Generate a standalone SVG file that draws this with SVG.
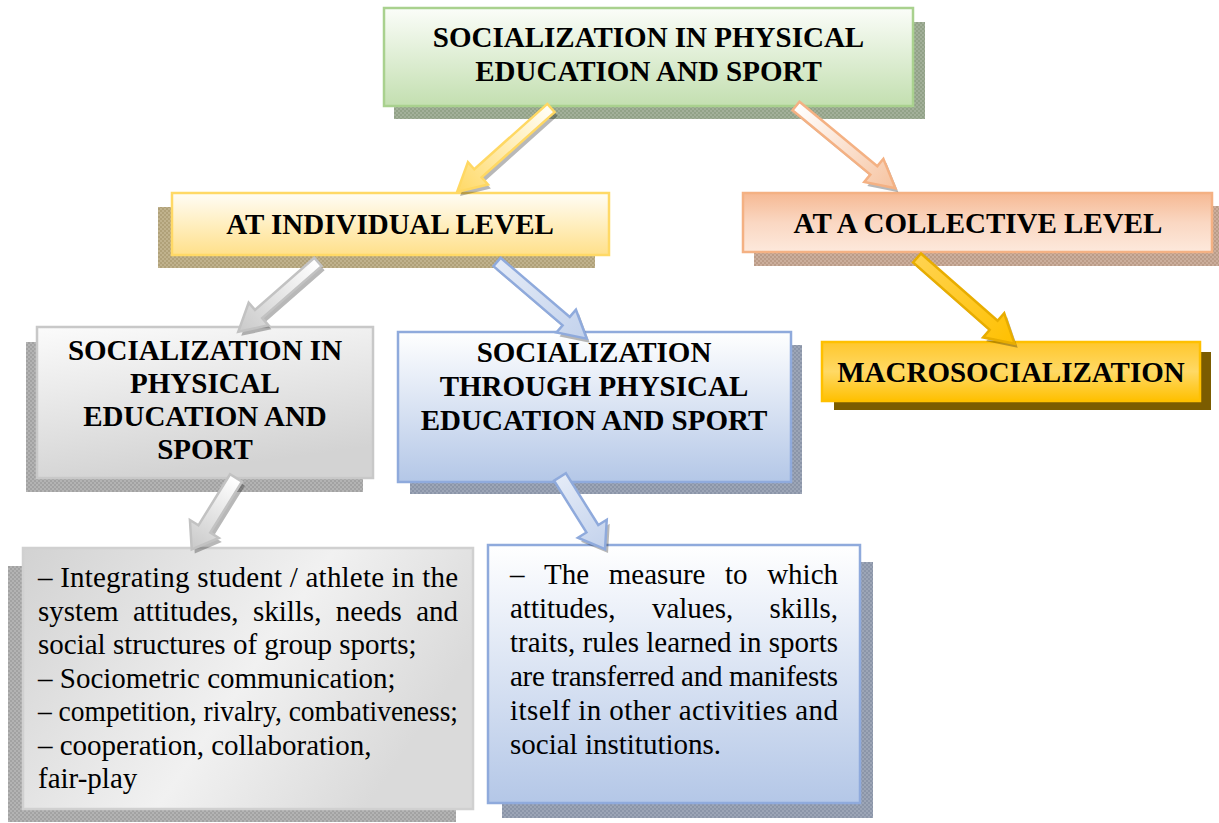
<svg xmlns="http://www.w3.org/2000/svg" xmlns:xlink="http://www.w3.org/1999/xlink" width="1219" height="823" viewBox="0 0 1219 823">
<defs>
<style>
.h{font-weight:bold;font-size:29px;fill:#000;text-anchor:middle}
.b{font-size:29px;fill:#000}
.box{stroke-width:2.5}
.ash{fill:#000;fill-opacity:0.28;stroke:none}
</style>
<linearGradient id="gGreen" x1="0" y1="0" x2="0" y2="1"><stop offset="0" stop-color="#fbfdf9"/><stop offset="1" stop-color="#c3dfb0"/></linearGradient>
<linearGradient id="gYel" x1="0" y1="0" x2="0" y2="1"><stop offset="0" stop-color="#fffdf6"/><stop offset="1" stop-color="#ffe08a"/></linearGradient>
<linearGradient id="gPeach" x1="0" y1="0" x2="0" y2="1"><stop offset="0" stop-color="#f6b993"/><stop offset="0.5" stop-color="#fad7c2"/><stop offset="1" stop-color="#fde9dc"/></linearGradient>
<linearGradient id="gGold" x1="0" y1="0" x2="0" y2="1"><stop offset="0" stop-color="#ffc72c"/><stop offset="0.5" stop-color="#ffd965"/><stop offset="1" stop-color="#ffc000"/></linearGradient>
<linearGradient id="gGray" x1="0" y1="0" x2="0.3" y2="1"><stop offset="0" stop-color="#fbfbfb"/><stop offset="1" stop-color="#d3d3d3"/></linearGradient>
<linearGradient id="gBlue" x1="0" y1="0" x2="0" y2="1"><stop offset="0" stop-color="#ffffff"/><stop offset="1" stop-color="#b4c7e7"/></linearGradient>
<linearGradient id="gGray2" x1="0" y1="0" x2="1" y2="0.4"><stop offset="0" stop-color="#d2d2d2"/><stop offset="0.6" stop-color="#f1f1f1"/><stop offset="1" stop-color="#dadada"/></linearGradient>
<pattern id="pGreen" width="4" height="4" patternUnits="userSpaceOnUse"><rect width="4" height="4" fill="#92a288"/><rect width="2" height="2" fill="#a3b09a"/><rect x="2" y="2" width="2" height="2" fill="#a3b09a"/></pattern>
<pattern id="pTan" width="4" height="4" patternUnits="userSpaceOnUse"><rect width="4" height="4" fill="#b0a179"/><rect width="2" height="2" fill="#c0b28d"/><rect x="2" y="2" width="2" height="2" fill="#c0b28d"/></pattern>
<pattern id="pPeach" width="4" height="4" patternUnits="userSpaceOnUse"><rect width="4" height="4" fill="#bb9c88"/><rect width="2" height="2" fill="#cbae9c"/><rect x="2" y="2" width="2" height="2" fill="#cbae9c"/></pattern>
<pattern id="pGray" width="4" height="4" patternUnits="userSpaceOnUse"><rect width="4" height="4" fill="#a2a2a2"/><rect width="2" height="2" fill="#b3b3b3"/><rect x="2" y="2" width="2" height="2" fill="#b3b3b3"/></pattern>
<pattern id="pBlue" width="4" height="4" patternUnits="userSpaceOnUse"><rect width="4" height="4" fill="#8b95a8"/><rect width="2" height="2" fill="#9ca5b6"/><rect x="2" y="2" width="2" height="2" fill="#9ca5b6"/></pattern>
<linearGradient id="aY" x1="0" y1="0" x2="1" y2="0"><stop offset="0" stop-color="#fffef8"/><stop offset="1" stop-color="#ffd966"/></linearGradient>
<linearGradient id="aP" x1="0" y1="0" x2="1" y2="0"><stop offset="0" stop-color="#ffffff"/><stop offset="1" stop-color="#f6c3a0"/></linearGradient>
<linearGradient id="aG" x1="0" y1="0" x2="1" y2="0"><stop offset="0" stop-color="#ffffff"/><stop offset="1" stop-color="#c9c9c9"/></linearGradient>
<linearGradient id="aB" x1="0" y1="0" x2="1" y2="0"><stop offset="0" stop-color="#e4ebf7"/><stop offset="1" stop-color="#c3d2ec"/></linearGradient>
<linearGradient id="aO" x1="0" y1="0" x2="1" y2="0"><stop offset="0" stop-color="#ffd34f"/><stop offset="1" stop-color="#ffc000"/></linearGradient>
<polygon id="p1" transform="translate(551,108) rotate(138.2)" points="0,-5.5 98,-5.5 98,-15 126,0 98,15 98,5.5 0,5.5"/>
<polygon id="p2" transform="translate(796,106) rotate(39.6)" points="0,-5.5 101,-5.5 101,-15 129,0 101,15 101,5.5 0,5.5"/>
<polygon id="p3" transform="translate(318,262) rotate(138.8)" points="0,-5.5 79,-5.5 79,-15 106,0 79,15 79,5.5 0,5.5"/>
<polygon id="p4" transform="translate(497,262) rotate(40.5)" points="0,-5.5 91,-5.5 91,-15 118,0 91,15 91,5.5 0,5.5"/>
<polygon id="p5" transform="translate(917,258) rotate(41.3)" points="0,-6 102,-6 102,-16 130,0 102,16 102,6 0,6"/>
<polygon id="p6" transform="translate(236,478) rotate(121.8)" points="0,-7 60,-7 60,-17 84,0 60,17 60,7 0,7"/>
<polygon id="p7" transform="translate(560,477) rotate(58)" points="0,-7 61,-7 61,-17 85,0 61,17 61,7 0,7"/>
</defs>
<rect width="1219" height="823" fill="#ffffff"/>
<g font-family="Liberation Serif, Times New Roman, serif">

<g id="node-top">
<rect x="394" y="22" width="531" height="97" fill="url(#pGreen)"/>
<rect class="box" x="384" y="8" width="529" height="98" fill="url(#gGreen)" stroke="#a9d18e"/>
<text class="h" x="648.5" y="47">SOCIALIZATION IN PHYSICAL</text>
<text class="h" x="648.5" y="81">EDUCATION AND SPORT</text>
</g>

<g id="node-individual">
<rect x="158" y="207" width="437" height="61" fill="url(#pTan)"/>
<rect class="box" x="172" y="193" width="437" height="62" fill="url(#gYel)" stroke="#ffd966"/>
<text class="h" x="390" y="234">AT INDIVIDUAL LEVEL</text>
</g>

<g id="node-collective">
<rect x="754" y="206" width="470" height="60" fill="url(#pPeach)"/>
<rect class="box" x="743" y="193" width="469" height="59" fill="url(#gPeach)" stroke="#f4b183"/>
<text class="h" x="978" y="233">AT A COLLECTIVE LEVEL</text>
</g>

<g id="node-macro">
<rect x="834" y="352" width="377" height="58" fill="#7b5c00"/>
<rect class="box" x="822" y="342" width="378" height="59" fill="url(#gGold)" stroke="#ffc000"/>
<text class="h" x="1011" y="382">MACROSOCIALIZATION</text>
</g>

<g id="node-in">
<rect x="26" y="342" width="337" height="150" fill="url(#pGray)"/>
<rect class="box" x="37" y="327" width="336" height="151" fill="url(#gGray)" stroke="#c8c8c8"/>
<text class="h" x="205" y="360">SOCIALIZATION IN</text>
<text class="h" x="205" y="393">PHYSICAL</text>
<text class="h" x="205" y="426">EDUCATION AND</text>
<text class="h" x="205" y="459">SPORT</text>
</g>

<g id="node-through">
<rect x="410" y="345" width="392" height="149" fill="url(#pBlue)"/>
<rect class="box" x="398" y="332" width="393" height="150" fill="url(#gBlue)" stroke="#8faadc"/>
<text class="h" x="594" y="362">SOCIALIZATION</text>
<text class="h" x="594" y="396">THROUGH PHYSICAL</text>
<text class="h" x="594" y="430">EDUCATION AND SPORT</text>
</g>

<g id="node-in-details">
<rect x="8" y="566" width="448" height="256" fill="url(#pGray)"/>
<rect class="box" x="23" y="548" width="450" height="261" fill="url(#gGray2)" stroke="#d0d0d0"/>
<text class="b" x="38" y="587" textLength="420" lengthAdjust="spacing">– Integrating student / athlete in the</text>
<text class="b" y="620.5"><tspan x="38">system</tspan><tspan x="133">attitudes,</tspan><tspan x="252.9">skills,</tspan><tspan x="335.8">needs</tspan></text>
<text class="b" x="458" y="620.5" text-anchor="end">and</text>
<text class="b" x="38" y="654">social structures of group sports;</text>
<text class="b" x="38" y="687.5">– Sociometric communication;</text>
<text class="b" x="38" y="721" textLength="420" lengthAdjust="spacingAndGlyphs">– competition, rivalry, combativeness;</text>
<text class="b" x="38" y="754.5">– cooperation, collaboration,</text>
<text class="b" x="38" y="788">fair-play</text>
</g>

<g id="node-through-details">
<rect x="502" y="562" width="371" height="256" fill="url(#pBlue)"/>
<rect class="box" x="488" y="545" width="372" height="258" fill="url(#gBlue)" stroke="#8faadc"/>
<text class="b" y="584"><tspan x="510">–</tspan><tspan x="544.1">The</tspan><tspan x="608.8">measure</tspan><tspan x="725">to</tspan></text>
<text class="b" x="838" y="584" text-anchor="end">which</text>
<text class="b" y="618"><tspan x="510">attitudes,</tspan><tspan x="651.9">values,</tspan></text>
<text class="b" x="838" y="618" text-anchor="end">skills,</text>
<text class="b" x="510" y="652" textLength="328" lengthAdjust="spacing">traits, rules learned in sports</text>
<text class="b" x="510" y="686" textLength="328" lengthAdjust="spacing">are transferred and manifests</text>
<text class="b" x="510" y="720" textLength="328" lengthAdjust="spacing">itself in other activities and</text>
<text class="b" x="510" y="754">social institutions.</text>
</g>
</g>

<g id="connectors" stroke-width="2.5" stroke-linejoin="miter">
<use xlink:href="#p1" href="#p1" class="ash" x="3" y="4"/>
<use xlink:href="#p1" href="#p1" fill="url(#aY)" stroke="#ffd863"/>
<use xlink:href="#p2" href="#p2" class="ash" x="3" y="4"/>
<use xlink:href="#p2" href="#p2" fill="url(#aP)" stroke="#f4b183"/>
<use xlink:href="#p3" href="#p3" class="ash" x="3" y="4"/>
<use xlink:href="#p3" href="#p3" fill="url(#aG)" stroke="#c2c2c2"/>
<use xlink:href="#p4" href="#p4" class="ash" x="3" y="4"/>
<use xlink:href="#p4" href="#p4" fill="url(#aB)" stroke="#8faadc"/>
<use xlink:href="#p5" href="#p5" class="ash" x="3" y="4"/>
<use xlink:href="#p5" href="#p5" fill="url(#aO)" stroke="#e8ad00"/>
<use xlink:href="#p6" href="#p6" class="ash" x="3" y="4"/>
<use xlink:href="#p6" href="#p6" fill="url(#aG)" stroke="#c2c2c2"/>
<use xlink:href="#p7" href="#p7" class="ash" x="3" y="4"/>
<use xlink:href="#p7" href="#p7" fill="url(#aB)" stroke="#8faadc"/>
</g>
</svg>
